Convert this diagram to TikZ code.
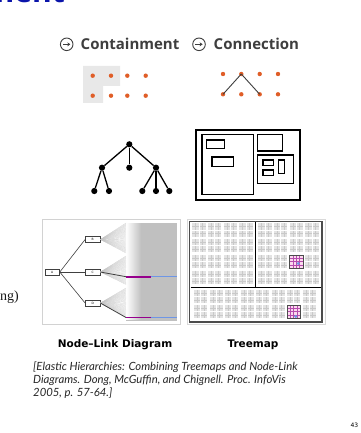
\documentclass[tikz,border=0pt]{standalone}
\usepackage{fontspec}
\setmainfont{Liberation Serif}
\newfontfamily\headfont{Open Sans}
\newfontfamily\capfont{DejaVu Sans}
\newfontfamily\citefont{Lato}
\usetikzlibrary{arrows.meta}
\definecolor{dotorange}{RGB}{224,94,40}
\definecolor{titleblue}{RGB}{10,20,170}
\definecolor{labelgray}{RGB}{62,62,62}
\definecolor{fangray}{RGB}{192,192,192}
\definecolor{hlmagenta}{RGB}{150,0,140}
\definecolor{hlblue}{RGB}{110,150,230}
\tikzset{
  dot/.style={circle,fill=dotorange,inner sep=0pt,minimum size=4.4pt},
  treenode/.style={circle,fill=black,inner sep=0pt,minimum size=6.2pt},
  nlbox/.style={draw=black!75,fill=white,line width=0.5pt,minimum width=14.7pt,
    minimum height=5.6pt,inner sep=0pt,font=\capfont\fontsize{3}{3}\selectfont},
  icon/.style={circle,draw=labelgray,line width=0.9pt,minimum size=12.6pt,inner sep=0pt},
  fanline/.style={gray!45,line width=0.2pt},
  box/.style={draw=black,line width=1.1pt}
}
\newcommand\tmcell[2]{%
  \fill[gray!22] (#1,#2) rectangle ++(13.3,13.3);
  \draw[gray!42,line width=0.35pt] (#1+3.3,#2) -- ++(0,13.3) (#1+10,#2) -- ++(0,13.3)
    (#1,#2+3.3) -- ++(13.3,0) (#1,#2+10) -- ++(13.3,0);
  \draw[white,line width=0.7pt] (#1+6.65,#2) -- ++(0,13.3) (#1,#2+6.65) -- ++(13.3,0);}
\newcommand\tmhot[2]{%
  \fill[magenta!15] (#1,#2) rectangle ++(13.3,13.3);
  \draw[hlmagenta!70,line width=0.5pt] (#1+3.3,#2) -- ++(0,13.3) (#1+6.65,#2) -- ++(0,13.3)
    (#1+10,#2) -- ++(0,13.3) (#1,#2+3.3) -- ++(13.3,0) (#1,#2+6.65) -- ++(13.3,0)
    (#1,#2+10) -- ++(13.3,0);
  \draw[black!70,line width=0.7pt] (#1,#2) rectangle ++(13.3,13.3);}
\begin{document}
\begin{tikzpicture}[x=1pt,y=-1pt]
  \useasboundingbox (0,0) rectangle (360,433);
  \clip (0,0) rectangle (360,433);
  \fill[white] (0,0) rectangle (360,433);
  \node[anchor=base east,inner sep=0pt,text=titleblue,font=\headfont\bfseries\fontsize{30}{30}\selectfont] (title) at (65,2.6) {nment};
  \node[anchor=base west,inner sep=0pt,text=black!90,font=\fontsize{14}{14}\selectfont] (side) at (0,300) {ng)};

  % legend
  \node[icon] (ic1) at (66.7,44.3) {};
  \node[icon] (ic2) at (199,44.3) {};
  \draw[labelgray,line width=0.9pt,-{Stealth[length=3pt,width=4pt]}] ([xshift=-3.6pt]ic1.center) -- ([xshift=3.6pt]ic1.center);
  \draw[labelgray,line width=0.9pt,-{Stealth[length=3pt,width=4pt]}] ([xshift=-3.6pt]ic2.center) -- ([xshift=3.6pt]ic2.center);
  \node[anchor=base west,inner sep=0pt,text=labelgray,font=\headfont\bfseries\fontsize{15}{15}\selectfont] (lcont) at (80.5,50) {Containment};
  \node[anchor=base west,inner sep=0pt,text=labelgray,font=\headfont\bfseries\fontsize{15}{15}\selectfont] (lconn) at (213.5,50) {Connection};

  \fill[gray!18] (83,66) -- (120,66) -- (120,86) -- (103,86) -- (103,103) -- (83,103) -- cycle;
  \draw
    (92.7,75.7) node[dot] (k1){}
    (111,75.7) node[dot] (k2){}
    (127.3,75.7) node[dot] (k3){}
    (145.7,75.7) node[dot] (k4){}
    (92.7,95.7) node[dot] (k5){}
    (111,95.7) node[dot] (k6){}
    (127.3,95.7) node[dot] (k7){}
    (145.7,95.7) node[dot] (k8){};
  \draw
    (223,74) node[dot] (q1){}
    (241.3,74) node[dot] (q2){}
    (259.7,74) node[dot] (q3){}
    (278,74) node[dot] (q4){}
    (223,94.3) node[dot] (q5){}
    (241.3,94.3) node[dot] (q6){}
    (259.7,94.3) node[dot] (q7){}
    (278,94.3) node[dot] (q8){};
  \begin{scope}[labelgray,line width=0.9pt]
    \draw (q2.center) to (q5.center);
    \draw (q2.center) to (q7.center);
  \end{scope}

  % small tree
  \draw
    (129.3,144.3) node[treenode] (r){}
    (102,167.7) node[treenode] (t1){}
    (129.3,167.7) node[treenode] (t2){}
    (156,167.7) node[treenode] (t3){}
    (94.3,191) node[treenode] (t11){}
    (109,191) node[treenode] (t12){}
    (142.3,191) node[treenode] (t31){}
    (156,191) node[treenode] (t32){}
    (169.3,191) node[treenode] (t33){};
  \begin{scope}[line width=1.3pt]
    \draw (r) to (t1);
    \draw (r) to (t2);
    \draw (r) to (t3);
    \draw (t1) to (t11);
    \draw (t1) to (t12);
    \draw (t3) to (t31);
    \draw (t3) to (t32);
    \draw (t3) to (t33);
  \end{scope}

  % nested boxes
  \draw[box,line width=1.7pt] (196,130) rectangle (300,200);
  \draw[box] (202,134.7) rectangle (253.3,194.7);
  \draw[box] (206.7,140) rectangle (224.7,148.7);
  \draw[box] (212,157) rectangle (233.3,166.3);
  \draw[box] (257.7,134.7) rectangle (282.3,151);
  \draw[box] (257.7,155) rectangle (293.3,183.3);
  \draw[box] (263,160) rectangle (273.3,165.7);
  \draw[box] (263,170) rectangle (273.3,175.7);
  \draw[box] (278.3,160) rectangle (284.3,173.3);

  % node-link screenshot
  \draw[gray!35,fill=white,line width=0.6pt] (42,219) rectangle (180,324);
  \fill[fangray] (126,223) rectangle (176.7,320.5);
  \foreach \i in {0,...,60} {
    \shade[left color=white,right color=fangray] (126,223.3+1.6*\i) rectangle (141,223.9+1.6*\i);
  }
  \node[nlbox] (A) at (52.2,272) {A};
  \node[nlbox] (B) at (92.7,239.5) {B};
  \node[nlbox] (C) at (92.7,272) {C};
  \node[nlbox] (D) at (92.7,303) {D};
  \foreach \i in {0,...,30} {
    \coordinate (fb\i) at (126,223+\i);
    \draw[fanline] (B.east) -- (fb\i);
    \coordinate (fc\i) at (126,256+0.95*\i);
    \draw[fanline] (C.east) -- (fc\i);
    \coordinate (fd\i) at (126,288+0.97*\i);
    \draw[fanline] (D.east) -- (fd\i);
  }
  \begin{scope}[black!75,line width=0.6pt]
    \draw (A.east) to (B.west);
    \draw (A.east) to (C.west);
    \draw (A.east) to (D.west);
  \end{scope}
  \coordinate (hc1) at (126,276.7);
  \coordinate (hc2) at (151,276.7);
  \coordinate (hc3) at (176.7,276.7);
  \coordinate (hd1) at (126,317.5);
  \coordinate (hd2) at (151,317.5);
  \coordinate (hd3) at (176.7,317.5);
  \draw[black!75,line width=0.8pt] (C.east) -- (hc1);
  \draw[black!75,line width=0.8pt] (D.east) -- (hd1);
  \draw[hlmagenta,line width=1.6pt] (hc1) -- (hc2);
  \draw[hlmagenta,line width=1.6pt] (hd1) -- (hd2);
  \draw[hlblue,line width=1.2pt] (hc2) -- (hc3);
  \draw[hlblue,line width=1.2pt] (hd2) -- (hd3);

  % treemap screenshot
  \draw[gray!30,fill=white,line width=0.6pt] (187,219) rectangle (325,324);
  \draw[black!70,line width=1.5pt] (189.7,221.5) rectangle (321.8,321.8);
  \foreach \c in {0,...,3} {
    \foreach \r in {0,...,3} {
      \tmcell{192.3+15.67*\c}{223.3+15.8*\r}
      \tmcell{258.3+15.67*\c}{223.3+15.8*\r}
    }
  }
  \foreach \c in {0,...,7} {
    \foreach \r in {0,1} {
      \tmcell{194+15.5*\c}{290+15*\r}
    }
  }
  \tmhot{289.6}{254.9}
  \tmhot{287}{305}
  \fill[hlblue] (298.3,263.5) circle (1.6);
  \fill[hlblue] (295.8,316.5) circle (1.6);
  \draw[black,line width=0.8pt] (255.7,222.3) -- (255.7,287.3);
  \draw[black,line width=0.8pt] (190.5,287.8) -- (321,287.8);

  % captions
  \node[anchor=base,inner sep=0pt,font=\capfont\bfseries\fontsize{10.5}{10.5}\selectfont] (cnl) at (115,347.5) {Node–Link Diagram};
  \node[anchor=base,inner sep=0pt,font=\capfont\bfseries\fontsize{10.5}{10.5}\selectfont] (ctm) at (253,347.5) {Treemap};
  \node[anchor=north west,inner sep=0pt,align=left,text=black!85,font=\citefont\itshape\fontsize{11.3}{13.3}\selectfont] (cite) at (33,361.5)
    {[Elastic Hierarchies: Combining Treemaps and Node-Link\\Diagrams. Dong, McGuffin, and Chignell. Proc. InfoVis\\2005, p. 57-64.]};
  \node[anchor=base east,inner sep=0pt,font=\capfont\fontsize{6}{6}\selectfont] (pg) at (358.5,427.5) {43};
\end{tikzpicture}
\end{document}
